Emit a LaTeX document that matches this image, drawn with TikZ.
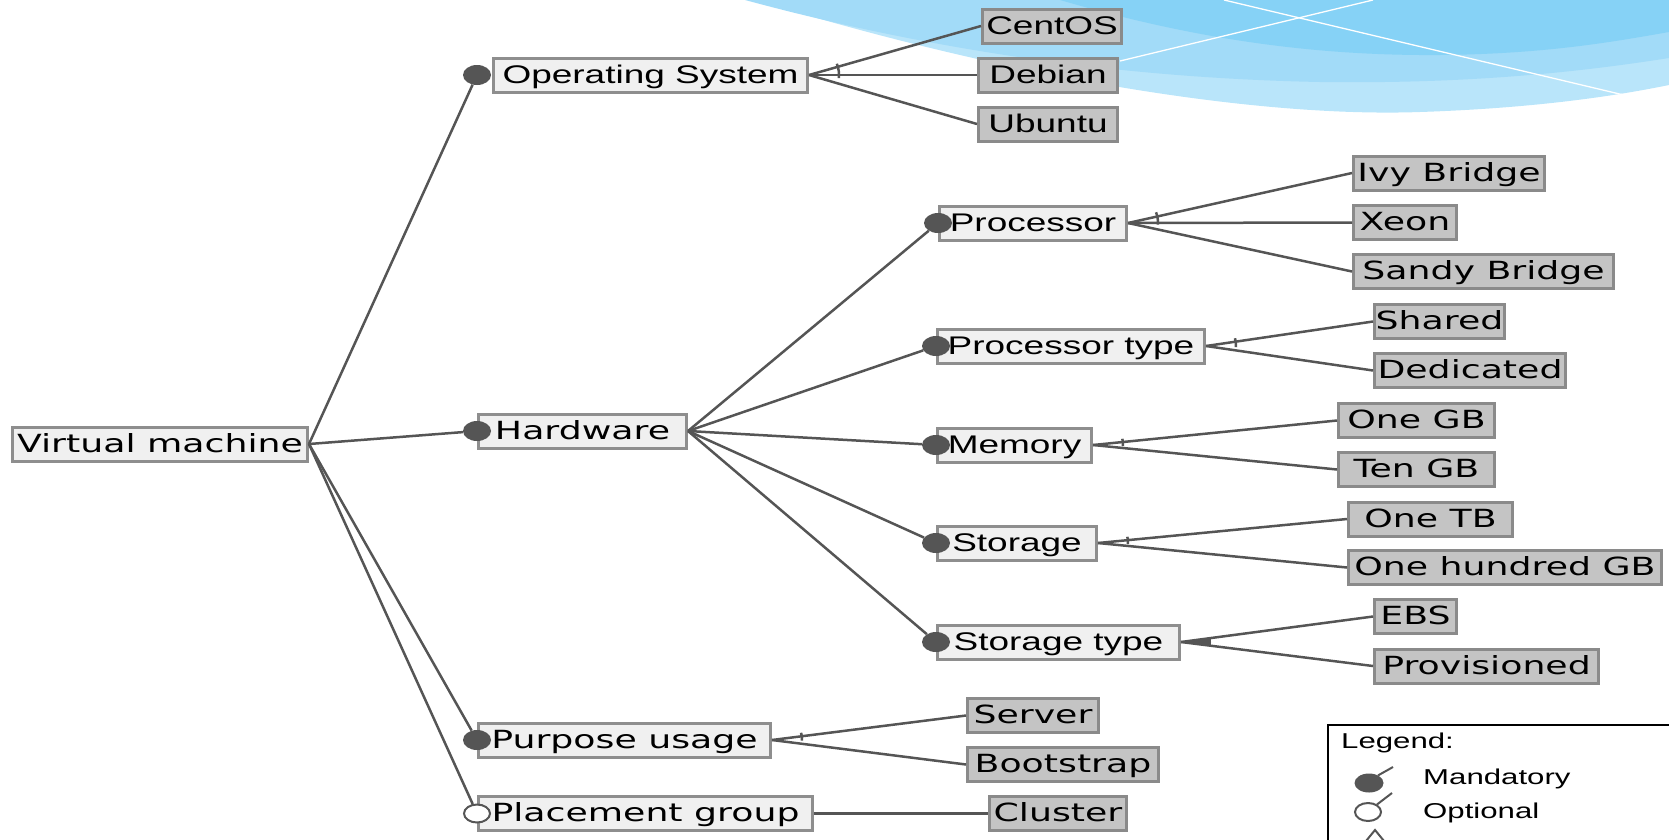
\documentclass[tikz,border=0pt]{standalone}
\usepackage{fontspec}
\usetikzlibrary{shapes.geometric,calc}
\newfontfamily\dvf[FakeStretch=1.45]{DejaVu Sans}
\newfontfamily\arf[FakeStretch=1.45]{Liberation Sans}
\definecolor{featfill}{HTML}{F0F0F0}
\definecolor{featline}{HTML}{8E8E8E}
\definecolor{leaffill}{HTML}{C4C4C4}
\definecolor{leafline}{HTML}{8A8A8A}
\definecolor{lnc}{HTML}{555555}
\definecolor{bgA}{HTML}{B9E5FA}
\definecolor{bgB}{HTML}{A2DBF8}
\definecolor{bgC}{HTML}{86D2F6}
\begin{document}
\begin{tikzpicture}[x=1pt,y=-1pt,
  box/.style={line width=3pt, inner sep=0pt, minimum height=34pt, text height=19pt, text depth=3pt, align=center},
  feat/.style={box, draw=featline, fill=featfill},
  leaf/.style={box, draw=leafline, fill=leaffill},
  fd/.style={font=\dvf\fontsize{25}{30}\selectfont},
  fa/.style={font=\arf\fontsize{25.5}{30}\selectfont},
  fl/.style={font=\arf\fontsize{21.5}{26}\selectfont, inner sep=0pt},
  mand/.style={ellipse, fill=lnc, minimum width=28pt, minimum height=20pt, inner sep=0pt},
  opt/.style={ellipse, draw=lnc, fill=white, line width=2pt, minimum width=26pt, minimum height=18pt, inner sep=0pt},
  link/.style={draw=lnc, line width=2.5pt},
  tick/.style={draw=lnc, line width=2.5pt}]
\useasboundingbox (0,0) rectangle (1669,839);
\clip (0,0) rectangle (1669,839);
% background swoosh
\fill[bgA] (756,0) .. controls (1000,75) and (1250,118) .. (1420,112) .. controls (1540,108) and (1620,95) .. (1669,85) -- (1669,0) -- cycle;
\fill[bgB] (745,0) .. controls (930,50) and (1120,78) .. (1320,82) .. controls (1470,84) and (1580,72) .. (1669,58) -- (1669,0) -- cycle;
\fill[bgC] (1060,0) .. controls (1190,38) and (1310,56) .. (1440,55) .. controls (1545,54) and (1612,42) .. (1669,32) -- (1669,0) -- cycle;
\draw[white, line width=1.3pt] (1224,0) -- (1628,96);
\draw[white, line width=1.3pt] (1120,61) -- (1373,0);

% features
\node[feat,fd,minimum width=295pt] (vm) at (160,444) {Virtual machine};
\node[feat,fa,minimum width=314pt] (os) at (650.5,75) {Operating System};
\node[feat,fd,minimum width=208pt] (hw) at (582.5,431) {Hardware};
\node[feat,fa,minimum width=187pt] (proc) at (1033,223) {Processor};
\node[feat,fa,minimum width=267pt] (ptype) at (1071,346) {Processor type};
\node[feat,fa,minimum width=154pt] (mem) at (1014.5,445) {Memory};
\node[feat,fa,minimum width=159pt] (stor) at (1017,543) {Storage};
\node[feat,fa,minimum width=242pt] (stype) at (1058.5,642) {Storage type};
\node[feat,fd,minimum width=292pt] (pu) at (624.5,740) {Purpose usage};
\node[feat,fd,minimum width=334pt] (pg) at (645.5,813.5) {Placement group};

% leaves
\node[leaf,fa,minimum width=139pt] (centos) at (1052,26) {CentOS};
\node[leaf,fa,minimum width=139pt] (debian) at (1048,75) {Debian};
\node[leaf,fa,minimum width=139pt] (ubuntu) at (1048,124) {Ubuntu};
\node[leaf,fd,minimum width=191pt] (ivy) at (1449,173) {Ivy Bridge};
\node[leaf,fd,minimum width=103pt] (xeon) at (1405,222.5) {Xeon};
\node[leaf,fd,minimum width=260pt] (sandy) at (1483.5,271.5) {Sandy Bridge};
\node[leaf,fd,minimum width=130pt] (shared) at (1439.5,321.5) {Shared};
\node[leaf,fd,minimum width=191pt] (dedic) at (1470,370.5) {Dedicated};
\node[leaf,fd,minimum width=156pt] (onegb) at (1416.5,420.5) {One GB};
\node[leaf,fd,minimum width=156pt] (tengb) at (1416.5,469.5) {Ten GB};
\node[leaf,fd,minimum width=164pt] (onetb) at (1430.5,519) {One TB};
\node[leaf,fd,minimum width=313pt] (hgb) at (1505,567.5) {One hundred GB};
\node[leaf,fd,minimum width=82pt] (ebs) at (1415.5,616.5) {EBS};
\node[leaf,fd,minimum width=224pt] (prov) at (1486.5,666) {Provisioned};
\node[leaf,fd,minimum width=131pt] (server) at (1033,715.5) {Server};
\node[leaf,fd,minimum width=191pt] (boot) at (1063,764.5) {Bootstrap};
\node[leaf,fd,minimum width=137pt] (cluster) at (1058,813.5) {Cluster};

% mandatory / optional markers
\node[mand] (osc) at ([xshift=-15pt]os.west) {};
\node[mand] (hwc) at (hw.west) {};
\node[mand] (procc) at (proc.west) {};
\node[mand] (ptypec) at (ptype.west) {};
\node[mand] (memc) at (mem.west) {};
\node[mand] (storc) at (stor.west) {};
\node[mand] (stypec) at (stype.west) {};
\node[mand] (puc) at (pu.west) {};
\node[opt] (pgc) at (pg.west) {};

% connectors from root
\draw[link] (vm.east) -- (osc);
\draw[link] (vm.east) -- (hwc);
\draw[link] (vm.east) -- (puc);
\draw[link] (vm.east) -- (pgc);
% hardware
\foreach \c in {procc,ptypec,memc,storc,stypec} \draw[link] (hw.east) -- (\c);
% groups
\foreach \c in {centos,debian,ubuntu} \draw[link] (os.east) -- (\c.west);
\foreach \c in {ivy,xeon,sandy} \draw[link] (proc.east) -- (\c.west);
\foreach \c in {shared,dedic} \draw[link] (ptype.east) -- (\c.west);
\foreach \c in {onegb,tengb} \draw[link] (mem.east) -- (\c.west);
\foreach \c in {onetb,hgb} \draw[link] (stor.east) -- (\c.west);
\foreach \c in {ebs,prov} \draw[link] (stype.east) -- (\c.west);
\foreach \c in {server,boot} \draw[link] (pu.east) -- (\c.west);
\draw[link] (pg.east) -- (cluster.west);

% group marks
\draw[tick] (os.east) ++(22:30pt) arc[start angle=22,end angle=-6,radius=30pt];
\draw[tick] (proc.east) ++(21:30pt) arc[start angle=21,end angle=-3,radius=30pt];
\draw[tick] (ptype.east) ++(15:30pt) arc[start angle=15,end angle=-2,radius=30pt];
\draw[tick] (mem.east) ++(12:30pt) arc[start angle=12,end angle=-2,radius=30pt];
\draw[tick] (stor.east) ++(12:30pt) arc[start angle=12,end angle=-2,radius=30pt];
\draw[tick] (pu.east) ++(14:30pt) arc[start angle=14,end angle=-1,radius=30pt];
\fill[lnc] (stype.east) -- ++(7.6:30pt) arc[start angle=7.6,end angle=-7.6,radius=30pt] -- cycle;

% legend
\node[draw=black, line width=2pt, minimum width=360pt, minimum height=140pt, anchor=north west, inner sep=0pt] (legend) at (1327,724) {};
\node[fl, anchor=base west] (lgt) at (1341,748) {Legend:};
\node[mand, minimum width=29pt, minimum height=19pt] (lm) at (1369,783) {};
\draw[lnc, line width=2pt] (lm.40) -- (1393,767);
\node[fl, anchor=base west] (lmt) at (1423,784) {Mandatory};
\node[opt] (lo) at (1368,812) {};
\draw[lnc, line width=2pt] (lo.40) -- (1392,793);
\node[fl, anchor=base west] (lot) at (1423,818) {Optional};
\draw[lnc, line width=2pt] (1366,841) -- (1375,830) -- (1384,841);
\end{tikzpicture}
\end{document}
